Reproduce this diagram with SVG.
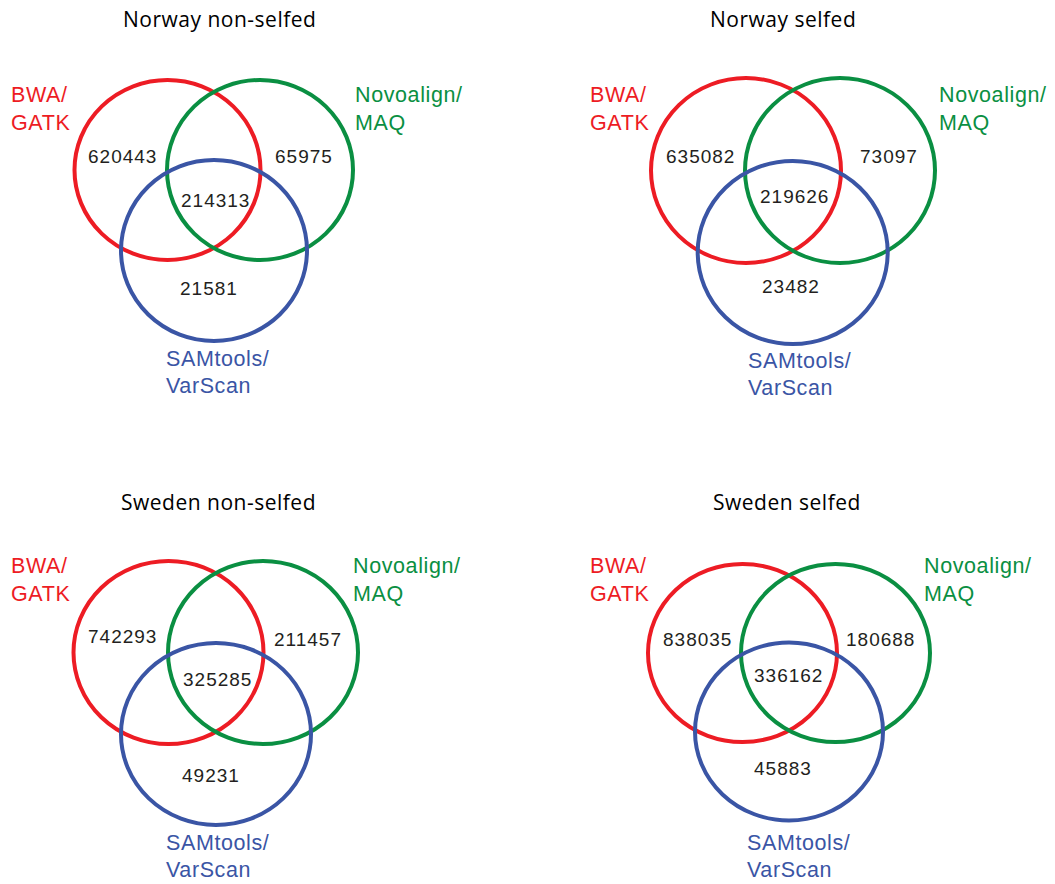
<svg xmlns="http://www.w3.org/2000/svg" width="1055" height="884" viewBox="0 0 1055 884">
<style>
.bg{fill:#ffffff}
.c{fill:none;stroke-width:4}
.r{stroke:#ed1c24}.g{stroke:#0a8f42}.b{stroke:#3a55a5}
.t{font-family:"Open Sans","Liberation Sans",sans-serif;font-size:21px;fill:#000;letter-spacing:0.5px}
.l{font-family:"Liberation Sans",Arial,sans-serif;font-size:21.5px;letter-spacing:0.6px}
.lr{fill:#ed1c24}.lg{fill:#0a8f42}.lb{fill:#3a55a5}
.n{font-family:"Liberation Sans",Arial,sans-serif;font-size:19px;fill:#231f20;letter-spacing:1px}
</style>
<rect class="bg" x="0" y="0" width="1055" height="884"/>
<g id="norway-nonselfed">
  <text class="t" x="123" y="27">Norway non-selfed</text>
  <ellipse class="c r" cx="167.5" cy="170" rx="93" ry="90"/>
  <ellipse class="c g" cx="260" cy="170" rx="93" ry="90"/>
  <ellipse class="c b" cx="214" cy="250.5" rx="93" ry="90.5"/>
  <text class="l lr" x="11" y="102">BWA/</text>
  <text class="l lr" x="11" y="130">GATK</text>
  <text class="l lg" x="355" y="102">Novoalign/</text>
  <text class="l lg" x="355" y="130">MAQ</text>
  <text class="l lb" x="166" y="366">SAMtools/</text>
  <text class="l lb" x="166" y="393">VarScan</text>
  <text class="n" x="88" y="163">620443</text>
  <text class="n" x="275" y="163">65975</text>
  <text class="n" x="181" y="207">214313</text>
  <text class="n" x="180" y="295">21581</text>
</g>
<g id="norway-selfed">
  <text class="t" x="710" y="27">Norway selfed</text>
  <ellipse class="c r" cx="746" cy="170.5" rx="95" ry="92.5"/>
  <ellipse class="c g" cx="840" cy="170.5" rx="95" ry="92.5"/>
  <ellipse class="c b" cx="792.7" cy="252.5" rx="95" ry="91.5"/>
  <text class="l lr" x="590" y="102">BWA/</text>
  <text class="l lr" x="590" y="130">GATK</text>
  <text class="l lg" x="939" y="102">Novoalign/</text>
  <text class="l lg" x="939" y="130">MAQ</text>
  <text class="l lb" x="748" y="368">SAMtools/</text>
  <text class="l lb" x="748" y="395">VarScan</text>
  <text class="n" x="666" y="163">635082</text>
  <text class="n" x="860" y="163">73097</text>
  <text class="n" x="760" y="203">219626</text>
  <text class="n" x="762" y="293">23482</text>
</g>
<g id="sweden-nonselfed">
  <text class="t" x="121" y="510">Sweden non-selfed</text>
  <ellipse class="c r" cx="168.5" cy="652.5" rx="95" ry="91.5"/>
  <ellipse class="c g" cx="263" cy="652.5" rx="95" ry="91.5"/>
  <ellipse class="c b" cx="216" cy="734" rx="95" ry="91"/>
  <text class="l lr" x="11" y="573">BWA/</text>
  <text class="l lr" x="11" y="601">GATK</text>
  <text class="l lg" x="353" y="573">Novoalign/</text>
  <text class="l lg" x="353" y="601">MAQ</text>
  <text class="l lb" x="166" y="850">SAMtools/</text>
  <text class="l lb" x="166" y="877">VarScan</text>
  <text class="n" x="88" y="643">742293</text>
  <text class="n" x="274" y="646">211457</text>
  <text class="n" x="183" y="686">325285</text>
  <text class="n" x="182" y="782">49231</text>
</g>
<g id="sweden-selfed">
  <text class="t" x="713" y="510">Sweden selfed</text>
  <ellipse class="c r" cx="742.5" cy="653" rx="94.5" ry="89"/>
  <ellipse class="c g" cx="835.5" cy="653" rx="94.5" ry="89"/>
  <ellipse class="c b" cx="789" cy="731.5" rx="94" ry="89"/>
  <text class="l lr" x="590" y="573">BWA/</text>
  <text class="l lr" x="590" y="601">GATK</text>
  <text class="l lg" x="924" y="573">Novoalign/</text>
  <text class="l lg" x="924" y="601">MAQ</text>
  <text class="l lb" x="747" y="850">SAMtools/</text>
  <text class="l lb" x="747" y="877">VarScan</text>
  <text class="n" x="663" y="646">838035</text>
  <text class="n" x="846" y="646">180688</text>
  <text class="n" x="754" y="682">336162</text>
  <text class="n" x="754" y="775">45883</text>
</g>
<g id="connectors"/>
</svg>
